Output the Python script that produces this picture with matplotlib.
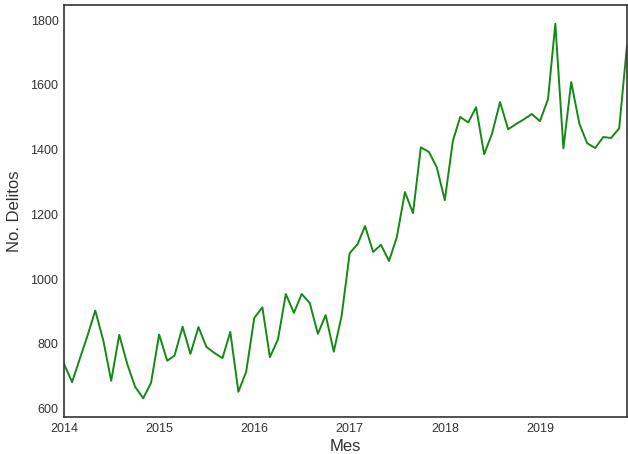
import matplotlib
matplotlib.use("Agg")
import matplotlib.pyplot as plt
import matplotlib.dates as mdates
import numpy as np
import pandas as pd
import seaborn as sns

months = pd.date_range("2014-01-01", "2019-12-01", freq="MS")
delitos = [
    738, 682, 750, 825, 903, 810, 686, 828, 737, 667, 632, 680,
    829, 748, 764, 853, 769, 852, 791, 772, 756, 837, 652, 714,
    880, 913, 759, 814, 954, 896, 954, 926, 831, 889, 776, 886,
    1080, 1109, 1164, 1084, 1106, 1056, 1130, 1269, 1204, 1407, 1393, 1346,
    1244, 1427, 1501, 1484, 1531, 1386, 1449, 1547, 1463, 1479, 1494, 1510,
    1488, 1556, 1789, 1404, 1609, 1481, 1420, 1405, 1439, 1436, 1466, 1722,
]

sns.set_style("white")
plt.rcParams["font.family"] = ["Liberation Sans", "DejaVu Sans"]

fig = plt.figure(figsize=(6.28, 4.54), dpi=100)
ax = fig.add_axes([64/628, 37/454, (627-64)/628, (417-5)/454])
ax.plot(months, delitos, color="#138a13", linewidth=1.4)
ax.set_xlim(months[0], months[-1])
ax.margins(y=0.05)
ax.xaxis.set_major_locator(mdates.YearLocator())
ax.xaxis.set_major_formatter(mdates.DateFormatter("%Y"))
ax.set_xlabel("Mes", fontsize=12, color="#333333", labelpad=3)
ax.set_ylabel("No. Delitos", fontsize=12, color="#333333", labelpad=6)
ax.tick_params(labelsize=9, colors="#333333", length=0, pad=4)
for s in ax.spines.values():
    s.set_color("#333333")
    s.set_linewidth(1.2)
fig.savefig("out.png", dpi=100)
